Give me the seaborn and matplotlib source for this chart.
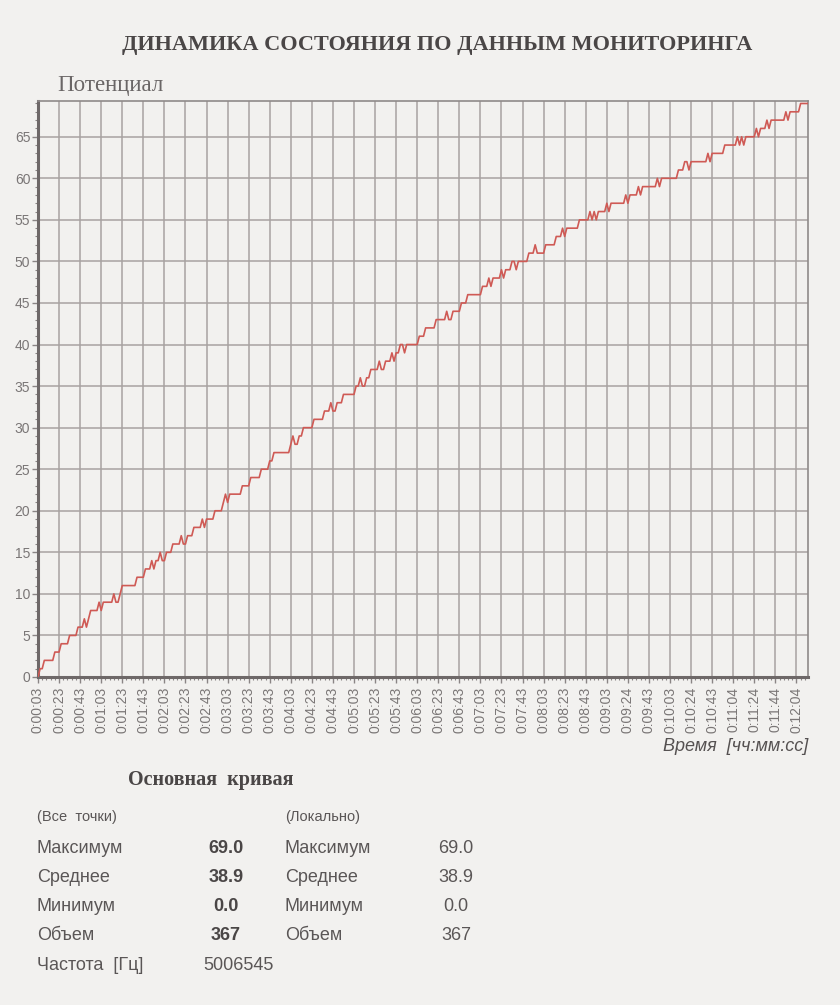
import numpy as np
import pandas as pd
import matplotlib
matplotlib.use("Agg")
import matplotlib.pyplot as plt
import seaborn as sns
from matplotlib.ticker import MultipleLocator

# ---------------- data ----------------
title = "ДИНАМИКА СОСТОЯНИЯ ПО ДАННЫМ МОНИТОРИНГА"
y_title = "Потенциал"
x_title = "Время  [чч:мм:сс]"

tick_labels = [
    "0:00:03", "0:00:23", "0:00:43", "0:01:03", "0:01:23", "0:01:43",
    "0:02:03", "0:02:23", "0:02:43", "0:03:03", "0:03:23", "0:03:43",
    "0:04:03", "0:04:23", "0:04:43", "0:05:03", "0:05:23", "0:05:43",
    "0:06:03", "0:06:23", "0:06:43", "0:07:03", "0:07:23", "0:07:43",
    "0:08:03", "0:08:23", "0:08:43", "0:09:03", "0:09:24", "0:09:43",
    "0:10:03", "0:10:24", "0:10:43", "0:11:04", "0:11:24", "0:11:44",
    "0:12:04",
]

values = [
    0, 1, 1, 2, 2, 2, 2, 2, 3, 3, 3,
    4, 4, 4, 4, 5, 5, 5, 5, 6, 6, 6, 7, 6, 7,
    8, 8, 8, 8, 9, 8, 9, 9, 9, 9, 9, 10, 9, 9, 10,
    11, 11, 11, 11, 11, 11, 11, 12, 12, 12, 12, 13, 13, 13, 14, 13, 14, 14, 15, 14, 14, 15, 15, 15,
    16, 16, 16, 16, 17, 16, 16, 17, 17, 17, 18, 18, 18, 18, 19, 18, 19, 19, 19, 19,
    20, 20, 20, 20, 21, 22, 21, 22, 22, 22, 22, 22, 22, 23, 23, 23, 23,
    24, 24, 24, 24, 24, 25, 25, 25, 25, 26, 26, 27, 27, 27, 27, 27, 27, 27, 27,
    28, 29, 28, 28, 29, 29, 30, 30, 30, 30, 30,
    31, 31, 31, 31, 31, 32, 32, 32, 33, 32, 32, 33, 33, 33,
    34, 34, 34, 34, 34, 34, 35, 35, 36, 35, 35, 36, 36,
    37, 37, 37, 37, 38, 37, 37, 38, 38, 38, 39, 38, 39, 39, 40, 40, 39,
    40, 40, 40, 40, 40, 40, 41, 41, 41, 42, 42, 42, 42, 42,
    43, 43, 43, 43, 43, 44, 43, 43, 44, 44, 44, 44,
    45, 45, 45, 46, 46, 46, 46, 46, 46, 46,
    47, 47, 47, 48, 47, 48, 48, 48, 48, 49, 48, 49, 49, 49, 50, 50, 49, 50, 50, 50, 50, 50,
    51, 51, 51, 52, 51, 51, 51, 51, 52, 52, 52, 52, 52,
    53, 53, 53, 54, 53, 54, 54, 54, 54, 54, 54,
    55, 55, 55, 55, 55, 56, 55, 56, 55, 56, 56, 56, 56, 57, 56,
    57, 57, 57, 57, 57, 57, 57, 58, 57, 58, 58, 58, 58, 59, 58,
    59, 59, 59, 59, 59, 59, 59, 60, 59, 60, 60, 60, 60, 60, 60, 60, 60,
    61, 61, 61, 62, 62, 61, 62, 62, 62, 62, 62, 62, 62, 62, 63, 62,
    63, 63, 63, 63, 63, 63, 64, 64, 64, 64, 64, 64, 65, 64, 65, 64,
    65, 65, 65, 65, 65, 66, 65, 66, 66, 66, 67, 66,
    67, 67, 67, 67, 67, 67, 67, 68, 67, 68, 68, 68, 68, 68,
    69, 69, 69, 69, 69,
]

section_title = "Основная  кривая"
col_all_title = "(Все  точки)"
col_local_title = "(Локально)"
stat_names = ["Максимум", "Среднее", "Минимум", "Объем"]
stat_all = ["69.0", "38.9", "0.0", "367"]
stat_local = ["69.0", "38.9", "0.0", "367"]
freq_name = "Частота  [Гц]"
freq_value = "5006545"

# ---------------- style ----------------
BG = "#f2f1ef"
TXT = "#5a5656"
GRID = "#a8a2a2"
LINE = "#cf5a55"

sns.set_style("white")
plt.rcParams["font.family"] = ["Liberation Sans", "DejaVu Sans"]

W, H = 840, 1005
fig = plt.figure(figsize=(W / 100, H / 100), dpi=100, facecolor=BG)

def fx(px):
    return px / W

def fy(py):
    return 1 - py / H

ax = fig.add_axes([fx(38), fy(677), fx(808) - fx(38), fy(101) - fy(677)])
ax.set_facecolor(BG)

df = pd.DataFrame({"sample": np.arange(len(values)), "value": values})
sns.lineplot(data=df, x="sample", y="value", ax=ax, color=LINE, linewidth=1.2, zorder=3)

ax.set_xlim(0, 365.5)
ax.set_ylim(0, 69.3)

ax.set_xticks(np.arange(len(tick_labels)) * 10)
ax.set_xticklabels(tick_labels, rotation=90, fontsize=10, color="#7a7676")
ax.xaxis.set_minor_locator(MultipleLocator(2))
ax.yaxis.set_major_locator(MultipleLocator(5))
ax.yaxis.set_minor_locator(MultipleLocator(1))
ax.tick_params(axis="y", labelsize=10, labelcolor="#7a7676")
ax.tick_params(which="major", length=4, width=1, color="#8a8585", direction="out", pad=1.5)
ax.tick_params(which="minor", length=2.2, width=0.8, color="#8a8585", direction="out")
ax.tick_params(axis="x", which="major", pad=3)
ax.tick_params(bottom=True, left=True, which="both")

ax.grid(True, which="major", color=GRID, linewidth=1.1)
ax.set_axisbelow(True)
ax.set_xlabel("")
ax.set_ylabel("")

for side in ["left", "bottom"]:
    ax.spines[side].set_color("#6e6868")
    ax.spines[side].set_linewidth(2.2)
for side in ["top", "right"]:
    ax.spines[side].set_color("#8f8a8a")
    ax.spines[side].set_linewidth(1.2)

serif = ["Liberation Serif", "DejaVu Serif"]

fig.text(fx(437), fy(45), title, family=serif, weight="bold", fontsize=16,
         color="#4a4646", ha="center", va="center")
fig.text(fx(57), fy(85), y_title, family=serif, fontsize=16.5, color="#6a6666",
         ha="left", va="center")
fig.text(fx(808), fy(746), x_title, style="italic", fontsize=13, color="#555151",
         ha="right", va="center")

fig.text(fx(128), fy(780), section_title, family=serif, weight="bold", fontsize=14.5,
         color="#4a4646", ha="left", va="center")
fig.text(fx(37), fy(817), col_all_title, fontsize=10.5, color=TXT, ha="left", va="center")
fig.text(fx(285), fy(817), col_local_title, fontsize=10.5, color=TXT, ha="left", va="center")

row_y = [848, 877, 906, 935]
for name, va_all, va_loc, yy in zip(stat_names, stat_all, stat_local, row_y):
    fig.text(fx(37), fy(yy), name, fontsize=13, color=TXT, ha="left", va="center")
    fig.text(fx(226), fy(yy), va_all, fontsize=13, weight="bold", color="#4a4646",
             ha="center", va="center")
    fig.text(fx(285), fy(yy), name, fontsize=13, color=TXT, ha="left", va="center")
    fig.text(fx(456), fy(yy), va_loc, fontsize=13, color=TXT, ha="center", va="center")

fig.text(fx(37), fy(965), freq_name, fontsize=13, color=TXT, ha="left", va="center")
fig.text(fx(203), fy(965), freq_value, fontsize=13, color=TXT, ha="left", va="center")

fig.savefig("out.png", dpi=100, facecolor=BG)
